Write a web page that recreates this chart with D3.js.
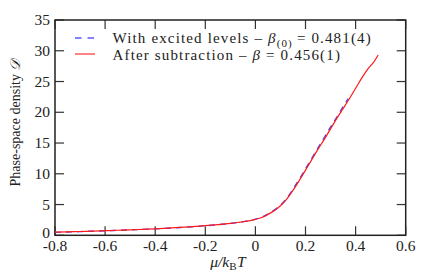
<!DOCTYPE html>
<html><head><meta charset="utf-8">
<script src="https://cdn.jsdelivr.net/npm/d3@7"></script>
<style>body{margin:0;background:#fff}svg{display:block}text{font-family:"Liberation Serif","DejaVu Serif",serif;fill:#222}</style>
</head><body>
<script>
const xTicks = [-0.8,-0.6,-0.4,-0.2,0,0.2,0.4,0.6];
const xTickLabels = ["-0.8","-0.6","-0.4","-0.2","0","0.2","0.4","0.6"];
const yTicks = [0,5,10,15,20,25,30,35];
const muRed = [-0.8,-0.75,-0.7,-0.65,-0.6,-0.55,-0.5,-0.45,-0.4,-0.35,-0.3,-0.25,-0.2,-0.15,-0.1,-0.05,0,0.025,0.05,0.075,0.1,0.125,0.15,0.175,0.2,0.225,0.25,0.275,0.3,0.325,0.35,0.375,0.4,0.425,0.45,0.475,0.49];
const dRed = [0.5,0.55,0.62,0.68,0.75,0.82,0.88,0.97,1.06,1.16,1.28,1.41,1.56,1.73,1.93,2.2,2.6,2.9,3.4,4.0,4.8,5.9,7.3,8.9,10.6,12.3,14.0,15.6,17.3,19.0,20.6,22.2,23.9,25.6,27.1,28.3,29.3];
const muBlue = [-0.8,-0.75,-0.7,-0.65,-0.6,-0.55,-0.5,-0.45,-0.4,-0.35,-0.3,-0.25,-0.2,-0.15,-0.1,-0.05,0,0.025,0.05,0.075,0.1,0.125,0.15,0.175,0.2,0.225,0.25,0.275,0.3,0.325,0.35,0.37];
const dBlue = [0.48,0.54,0.6,0.67,0.74,0.81,0.88,0.96,1.05,1.15,1.27,1.4,1.55,1.72,1.93,2.2,2.62,2.95,3.45,4.1,4.9,6.0,7.5,9.1,10.8,12.5,14.2,15.9,17.6,19.2,20.9,22.2];

const W=436,H=276, L=55, R=405.7, T=20, B=235.3;
const svg=d3.select("body").append("svg").attr("width",W).attr("height",H);
const x=d3.scaleLinear().domain([-0.8,0.6]).range([L,R]);
const y=d3.scaleLinear().domain([0,35]).range([B,T]);
const tl=9;
const g=svg.append("g");
xTicks.forEach((t,i)=>{
  g.append("line").attr("x1",x(t)).attr("x2",x(t)).attr("y1",B).attr("y2",B-tl).attr("stroke","#333").attr("stroke-width",1.2);
  g.append("line").attr("x1",x(t)).attr("x2",x(t)).attr("y1",T).attr("y2",T+tl).attr("stroke","#333").attr("stroke-width",1.2);
  g.append("text").attr("x",x(t)).attr("y",250.5).attr("text-anchor","middle").attr("font-size",15.5).text(xTickLabels[i]);
});
yTicks.forEach(t=>{
  g.append("line").attr("x1",L).attr("x2",L+tl).attr("y1",y(t)).attr("y2",y(t)).attr("stroke","#333").attr("stroke-width",1.2);
  g.append("line").attr("x1",R).attr("x2",R-tl).attr("y1",y(t)).attr("y2",y(t)).attr("stroke","#333").attr("stroke-width",1.2);
  g.append("text").attr("x",50).attr("y",t===0?y(t)+2.5:y(t)+5.2).attr("text-anchor","end").attr("font-size",15.5).text(t);
});
g.append("rect").attr("x",L).attr("y",T).attr("width",R-L).attr("height",B-T).attr("fill","none").attr("stroke","#222").attr("stroke-width",1.5);

const line=d3.line().x(d=>x(d[0])).y(d=>y(d[1])).curve(d3.curveMonotoneX);
svg.append("path").datum(muBlue.map((m,i)=>[m,dBlue[i]])).attr("d",line).attr("fill","none").attr("stroke","#4a4aff").attr("stroke-width",1.4).attr("stroke-dasharray","6,5");
svg.append("path").datum(muRed.map((m,i)=>[m,dRed[i]])).attr("d",line).attr("fill","none").attr("stroke","#ff1a1a").attr("stroke-width",1.2);

// legend
svg.append("line").attr("x1",75).attr("x2",94).attr("y1",38).attr("y2",38).attr("stroke","#5a5aff").attr("stroke-width",1.3).attr("stroke-dasharray","6.5,6");
svg.append("line").attr("x1",75).attr("x2",95).attr("y1",54).attr("y2",54).attr("stroke","#ff3030").attr("stroke-width",1.2);
const t1=svg.append("text").attr("x",112.5).attr("y",43.3).attr("font-size",15).attr("letter-spacing",1.15);
t1.append("tspan").text("With excited levels – ");
t1.append("tspan").attr("font-style","italic").text("β");
t1.append("tspan").attr("font-size",11).attr("dy",4).text("(0)");
t1.append("tspan").attr("dy",-4).attr("dx",4).text("= 0.481(4)");
const t2=svg.append("text").attr("x",112.5).attr("y",60).attr("font-size",15).attr("letter-spacing",1.15);
t2.append("tspan").text("After subtraction – ");
t2.append("tspan").attr("font-style","italic").text("β");
t2.append("tspan").text(" = 0.456(1)");

// axis labels
const yl=svg.append("text").attr("transform","translate(20,123) rotate(-90)").attr("text-anchor","middle").attr("font-size",14);
yl.append("tspan").text("Phase-space density ");
yl.append("tspan").attr("font-style","italic").text("𝒟");
const xl=svg.append("text").attr("x",228).attr("y",267).attr("text-anchor","middle").attr("font-size",15.5);
xl.append("tspan").attr("font-style","italic").text("μ/k");
xl.append("tspan").attr("font-size",11).attr("dy",3).text("B");
xl.append("tspan").attr("font-style","italic").attr("dy",-3).attr("dx",0.5).text("T");
</script>
</body></html>
